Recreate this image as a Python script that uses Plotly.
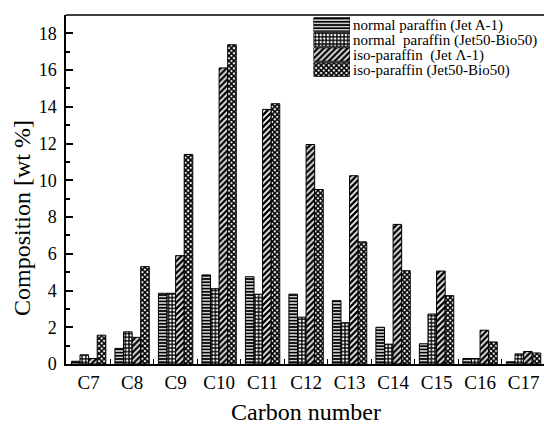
import plotly.graph_objects as go

categories = ["C7", "C8", "C9", "C10", "C11", "C12", "C13", "C14", "C15", "C16", "C17"]
normal_jeta = [0.15, 0.85, 3.85, 4.85, 4.75, 3.8, 3.45, 2.0, 1.1, 0.3, 0.12]
normal_j50 = [0.5, 1.75, 3.85, 4.1, 3.8, 2.55, 2.25, 1.08, 2.72, 0.3, 0.55]
iso_jeta = [0.3, 1.45, 5.9, 16.12, 13.86, 11.95, 10.25, 7.6, 5.06, 1.84, 0.68]
iso_j50 = [1.57, 5.3, 11.41, 17.38, 14.17, 9.5, 6.65, 5.08, 3.72, 1.2, 0.6]
series_names = ["normal paraffin (Jet A-1)", "normal  paraffin (Jet50-Bio50)",
                "iso-paraffin  (Jet Λ-1)", "iso-paraffin (Jet50-Bio50)"]
y_ticks = [0, 2, 4, 6, 8, 10, 12, 14, 16, 18]

FONT = "Liberation Serif"
W, H = 544, 427
L, R, T, B = 66, 0, 15, 63
PW, PH = W - L - R, H - T - B

series = [normal_jeta, normal_j50, iso_jeta, iso_j50]
pat_shapes = ["-", "+", "/", "x"]
pat_sizes = [3.2, 3.6, 4.2, 3.6]
pat_solid = [0.6, 0.6, 0.6, 0.7]

fig = go.Figure()
for name, vals, sh, sz, so in zip(series_names, series, pat_shapes, pat_sizes, pat_solid):
    fig.add_trace(go.Bar(
        x=categories, y=vals, name=name, showlegend=False,
        marker=dict(color="white", line=dict(color="black", width=1),
                    pattern=dict(shape=sh, size=sz, solidity=so, fgcolor="black",
                                 fgopacity=1, bgcolor="white", fillmode="overlay")),
    ))

# legend drawn as a small bar chart of swatches
fig.add_trace(go.Bar(
    x=[1] * len(series_names), y=series_names, orientation="h", width=0.9,
    xaxis="x2", yaxis="y2", showlegend=False, hoverinfo="skip",
    marker=dict(color="white", line=dict(color="black", width=1),
                pattern=dict(shape=pat_shapes, size=pat_sizes, solidity=pat_solid,
                             fgcolor="black", fgopacity=1, bgcolor="white",
                             fillmode="overlay")),
))

def px_x(p):
    return (p - L) / PW

def px_y(p):
    return (H - B - p) / PH

fig.update_layout(
    width=W, height=H,
    margin=dict(l=L, r=R, t=T, b=B),
    paper_bgcolor="white", plot_bgcolor="white",
    barmode="group", bargap=0.21, bargroupgap=0,
    font=dict(family=FONT, color="black"),
    xaxis=dict(
        range=[-0.52, 10.47], showline=True, linecolor="black", linewidth=1.5,
        ticks="inside", tickson="boundaries", ticklen=5, tickcolor="black",
        tickfont=dict(family=FONT, size=19), showgrid=False, zeroline=False,
    ),
    yaxis=dict(
        range=[0, 19], tickvals=y_ticks, showline=True, linecolor="black", linewidth=1.5,
        ticks="inside", ticklen=7, tickwidth=1.5, tickcolor="black",
        minor=dict(ticks="inside", ticklen=4, tickwidth=1.5, dtick=1, tickcolor="black"),
        tickfont=dict(family=FONT, size=18), showgrid=False, zeroline=False,
        ticklabelstandoff=4,
    ),
    xaxis2=dict(domain=[px_x(313.5), px_x(350)], range=[0, 1], anchor="y2",
                visible=False, fixedrange=True),
    yaxis2=dict(domain=[px_y(77), px_y(17)], anchor="x2", side="right",
                autorange="reversed", showline=False, showgrid=False, zeroline=False,
                tickmode="array", tickvals=series_names, ticktext=series_names,
                ticks="", tickfont=dict(family=FONT, size=15), ticklabelstandoff=2,
                fixedrange=True),
    shapes=[dict(type="line", xref="paper", yref="paper", x0=0, x1=1, y0=1, y1=1,
                 line=dict(color="black", width=1.5))],
    annotations=[
        dict(text="Composition [wt %]", xref="paper", yref="paper",
             x=px_x(22), y=px_y(218),
             textangle=-90, showarrow=False, font=dict(family=FONT, size=24),
             xanchor="center", yanchor="middle"),
        dict(text="Carbon number", xref="paper", yref="paper",
             x=px_x(306), y=px_y(412),
             showarrow=False, font=dict(family=FONT, size=24),
             xanchor="center", yanchor="middle"),
    ],
)

fig.write_html("out.html")
